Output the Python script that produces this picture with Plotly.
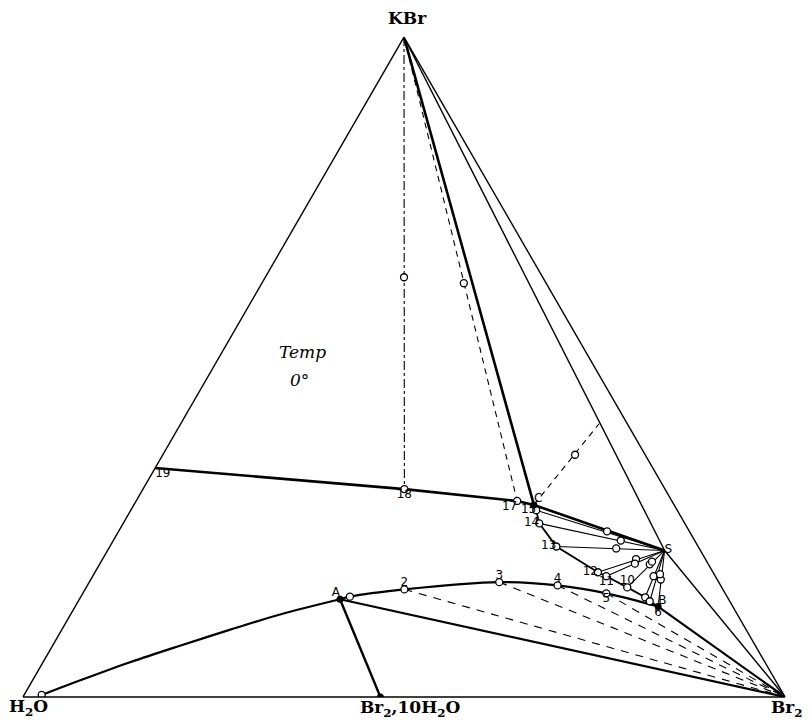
import plotly.graph_objects as go

# compositions in weight percent: KBr, H2O, Br2  (temp 0 deg)

# solubility curve of KBr: 19 - 18 - 17 - C
upper_kbr = [34.7, 31.5, 29.7, 29.1]
upper_h2o = [65.3, 34.2, 20.3, 18.4]
upper_br2 = [0.0, 34.3, 50.0, 52.5]

# curve C - 15 - 14 - 13 - 12 - 11 - 10 - B
right_kbr = [29.1, 28.3, 26.3, 22.8, 18.9, 18.3, 16.6, 15.1, 14.5, 13.7]
right_h2o = [18.4, 18.5, 19.1, 18.6, 15.1, 14.3, 12.4, 10.8, 10.5, 9.8]
right_br2 = [52.5, 53.2, 54.6, 58.6, 66.0, 67.4, 71.0, 74.1, 75.0, 76.5]

# curve A - 2 - 3 - 4 - 5 - B
lower_kbr = [14.8, 15.2, 16.3, 17.4, 16.9, 15.7, 13.7]
lower_h2o = [51.0, 49.5, 41.8, 28.8, 21.4, 15.6, 9.8]
lower_br2 = [34.2, 35.3, 41.9, 53.8, 61.7, 68.7, 76.5]

# ice curve from the water corner to A
ice_kbr = [0.3, 2.6, 5.3, 7.8, 10.2, 12.5, 14.8]
ice_h2o = [97.4, 91.0, 83.2, 75.4, 67.7, 60.0, 51.0]
ice_br2 = [2.3, 6.4, 11.5, 16.8, 22.1, 27.5, 34.2]

# fixed points
kbr_pt = [100.0, 0.0, 0.0]
br2_pt = [0.0, 0.0, 100.0]
hydrate_pt = [0.0, 53.1, 46.9]
A_pt = [14.8, 51.0, 34.2]
B_pt = [13.7, 9.8, 76.5]
C_pt = [29.1, 18.4, 52.5]
S_pt = [22.2, 4.7, 73.1]
pt18 = [31.5, 34.2, 34.3]
pt17 = [29.7, 20.3, 50.0]
end_cs = [41.4, 3.7, 54.9]

# residues on the lines from KBr
res_kbr = [63.6, 62.7, 36.7]
res_h2o = [18.2, 10.8, 9.2]
res_br2 = [18.2, 26.5, 54.1]

# tie lines to S start at these points (15, 14, 13, 12, 11, 10, ..., B)
tie_kbr = [28.3, 26.3, 22.8, 18.9, 18.3, 16.6, 15.1, 14.5, 13.7]
tie_h2o = [18.5, 19.1, 18.6, 15.1, 14.3, 12.4, 10.8, 10.5, 9.8]
tie_br2 = [53.2, 54.6, 58.6, 66.0, 67.4, 71.0, 74.1, 75.0, 76.5]

# residues on the tie lines
tres_kbr = [25.1, 23.7, 22.5, 20.9, 20.2, 20.1, 20.5, 18.3, 17.8, 18.6]
tres_h2o = [10.8, 9.7, 10.9, 9.1, 9.6, 7.7, 7.2, 8.1, 7.4, 7.1]
tres_br2 = [64.1, 66.6, 66.6, 70.0, 70.2, 72.2, 72.3, 73.6, 74.8, 74.3]

# dashed lines to Br2 start from 2, 3, 4, 5
dash_kbr = [16.3, 17.4, 16.9, 15.7]
dash_h2o = [41.8, 28.8, 21.4, 15.6]
dash_br2 = [41.9, 53.8, 61.7, 68.7]

# point labels
lab_text = ["19", "18", "17", "C", "15", "14", "13", "12", "11", "10",
            "2", "3", "4", "5", "6", "A", "B", "S"]
lab_kbr = [34.7, 31.5, 29.7, 29.1, 28.3, 26.3, 22.8, 18.9, 18.3, 16.6,
           16.3, 17.4, 16.9, 15.7, 13.7, 14.8, 13.7, 22.2]
lab_h2o = [65.3, 34.2, 20.3, 18.4, 18.5, 19.1, 18.6, 15.1, 14.3, 12.4,
           41.8, 28.8, 21.4, 15.6, 9.8, 51.0, 9.8, 4.7]
lab_br2 = [0.0, 34.3, 50.0, 52.5, 53.2, 54.6, 58.6, 66.0, 67.4, 71.0,
           41.9, 53.8, 61.7, 68.7, 76.5, 34.2, 76.5, 73.1]
lab_pos = ["bottom right", "bottom center", "bottom left", "top right",
           "middle left", "middle left", "middle left", "middle left",
           "bottom center", "top center", "top center", "top center",
           "top center", "bottom center", "bottom center", "top left",
           "top right", "middle right"]

fig = go.Figure()


def seg(p, q, width=1.2, dash="solid"):
    fig.add_trace(go.Scatterternary(
        a=[p[0], q[0]], b=[p[1], q[1]], c=[p[2], q[2]],
        mode="lines", line=dict(color="black", width=width, dash=dash),
        hoverinfo="skip"))


# thick phase boundaries
fig.add_trace(go.Scatterternary(a=upper_kbr, b=upper_h2o, c=upper_br2, mode="lines",
                                line=dict(color="black", width=2.6)))
fig.add_trace(go.Scatterternary(a=right_kbr, b=right_h2o, c=right_br2, mode="lines",
                                line=dict(color="black", width=1.8)))
fig.add_trace(go.Scatterternary(a=lower_kbr, b=lower_h2o, c=lower_br2, mode="lines",
                                line=dict(color="black", width=2.2, shape="spline")))
fig.add_trace(go.Scatterternary(a=ice_kbr, b=ice_h2o, c=ice_br2, mode="lines",
                                line=dict(color="black", width=2.2, shape="spline")))

seg(kbr_pt, C_pt, 2.6)
seg(kbr_pt, S_pt, 1.4)
seg(S_pt, br2_pt, 1.4)
seg(A_pt, hydrate_pt, 2.4)
seg(A_pt, br2_pt, 2.2)
seg(B_pt, br2_pt, 2.2)
seg(C_pt, S_pt, 2.6)
seg(kbr_pt, pt18, 1.1, "dashdot")
seg(kbr_pt, pt17, 1.1, "6px,5px")
seg(C_pt, end_cs, 1.1, "6px,5px")

for i in range(len(tie_kbr)):
    seg([tie_kbr[i], tie_h2o[i], tie_br2[i]], S_pt, 1.1)

for i in range(len(dash_kbr)):
    seg([dash_kbr[i], dash_h2o[i], dash_br2[i]], br2_pt, 1.1, "8px,7px")

# open circles
open_kbr = [0.3] + right_kbr[1:9] + lower_kbr[1:6] + res_kbr + tres_kbr + [31.5, 29.7]
open_h2o = [97.4] + right_h2o[1:9] + lower_h2o[1:6] + res_h2o + tres_h2o + [34.2, 20.3]
open_br2 = [2.3] + right_br2[1:9] + lower_br2[1:6] + res_br2 + tres_br2 + [34.3, 50.0]
fig.add_trace(go.Scatterternary(
    a=open_kbr, b=open_h2o, c=open_br2, mode="markers",
    marker=dict(symbol="circle", size=7, color="white",
                line=dict(color="black", width=1.3))))

# filled points
fig.add_trace(go.Scatterternary(
    a=[A_pt[0], B_pt[0], C_pt[0], hydrate_pt[0]],
    b=[A_pt[1], B_pt[1], C_pt[1], hydrate_pt[1]],
    c=[A_pt[2], B_pt[2], C_pt[2], hydrate_pt[2]],
    mode="markers", marker=dict(size=7, color="black")))

fig.add_trace(go.Scatterternary(
    a=lab_kbr, b=lab_h2o, c=lab_br2, mode="text", text=lab_text,
    textposition=lab_pos,
    textfont=dict(family="DejaVu Sans", size=12, color="black")))

axis = dict(showgrid=False, showticklabels=False, ticks="", showline=True,
            linecolor="black", linewidth=1.4, title=dict(text=""))

# page body has an 8px margin, so the figure is 8px smaller than the window
fig.update_layout(
    width=803, height=717,
    margin=dict(l=15, r=26, t=29, b=28),
    paper_bgcolor="white",
    showlegend=False,
    ternary=dict(sum=100, bgcolor="white",
                 domain=dict(x=[0, 1], y=[0, 1]),
                 aaxis=axis, baxis=axis, caxis=axis),
    annotations=[
        dict(text="<b>KBr</b>", x=0.505, y=1.029),
        dict(text="<b>H<sub>2</sub>O</b>", x=0.007, y=-0.016),
        dict(text="<b>Br<sub>2</sub>,10H<sub>2</sub>O</b>", x=0.508, y=-0.017),
        dict(text="<b>Br<sub>2</sub></b>", x=1.002, y=-0.018),
        dict(text="<i>Temp</i>", x=0.367, y=0.523,
             font=dict(family="DejaVu Serif", size=17, color="black")),
        dict(text="<i>0°</i>", x=0.3635, y=0.48,
             font=dict(family="DejaVu Serif", size=17, color="black")),
    ],
)
fig.update_annotations(xref="paper", yref="paper", showarrow=False,
                       xanchor="center", yanchor="middle")
for ann in fig.layout.annotations[:4]:
    ann.font = dict(family="DejaVu Serif", size=17, color="black")

fig.write_html("out.html")
